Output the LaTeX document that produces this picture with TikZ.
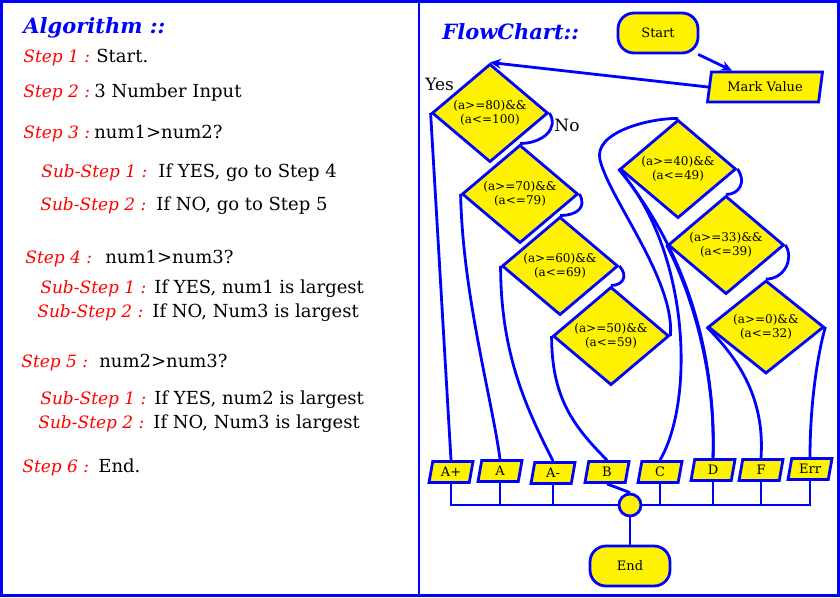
\documentclass[tikz,border=0pt]{standalone}
\usepackage{fontspec}
\setmainfont{DejaVu Serif}
\usepackage{tikz}
\usetikzlibrary{positioning}
\usetikzlibrary{shapes.geometric,arrows.meta}

\begin{document}
\begin{tikzpicture}[
	x=1pt,y=-1pt,
	line width=2.8pt,
	title/.style={anchor=base west,inner sep=0,text=blue,font=\fontsize{21}{25}\selectfont\bfseries\itshape},
	steplabel/.style={anchor=base west,inner sep=0,text=red,font=\fontsize{17}{20}\selectfont\itshape},
	steptext/.style={anchor=base west,inner sep=0,font=\fontsize{18}{21}\selectfont},
	terminal/.style={rectangle,rounded corners=16pt,draw=blue,fill=yellow,minimum width=80pt,minimum height=40pt,font=\fontsize{13}{15}\selectfont},
	iobox/.style={trapezium,trapezium left angle=72,trapezium right angle=108,trapezium stretches body,draw=blue,fill=yellow,inner sep=1pt},
	decision/.style={diamond,draw=blue,fill=yellow,inner sep=0,minimum width=116pt,minimum height=93pt,align=center,font=\fontsize{12}{14}\selectfont},
	grade/.style={iobox,minimum width=44pt,minimum height=21pt,font=\fontsize{13}{15}\selectfont},
	link/.style={draw=blue},
	arr/.style={link,-{Stealth[length=11pt,width=10pt]}}
]
	\useasboundingbox (0,0) rectangle (840,597);
	% frame
	\draw[blue] (1.5,1.5) rectangle (838.5,595.5);
	\draw[blue] (419,0) -- (419,597);

	% Algorithm
	\node[title] (algo) at (22,33) {Algorithm ::};
	\node[steplabel] (s1) at (22,62) {Step 1 :};
	\node[steptext] (t1) at (95,62) {Start.};
	\node[steplabel] (s2) at (22,97) {Step 2 :};
	\node[steptext] (t2) at (93,97) {3 Number Input};
	\node[steplabel] (s3) at (22,138) {Step 3 :};
	\node[steptext] (t3) at (93,138) {num1>num2?};
	\node[steplabel] (s31) at (40,177) {Sub-Step 1 :};
	\node[steptext] (t31) at (157,177) {If YES, go to Step 4};
	\node[steplabel] (s32) at (39,210) {Sub-Step 2 :};
	\node[steptext] (t32) at (155,210) {If NO, go to Step 5};
	\node[steplabel] (s4) at (24,263) {Step 4 :};
	\node[steptext] (t4) at (104,263) {num1>num3?};
	\node[steplabel] (s41) at (39,293) {Sub-Step 1 :};
	\node[steptext] (t41) at (153,293) {If YES, num1 is largest};
	\node[steplabel] (s42) at (36,317) {Sub-Step 2 :};
	\node[steptext] (t42) at (151,317) {If NO, Num3 is largest};
	\node[steplabel] (s5) at (20,367) {Step 5 :};
	\node[steptext] (t5) at (98,367) {num2>num3?};
	\node[steplabel] (s51) at (39,404) {Sub-Step 1 :};
	\node[steptext] (t51) at (153,404) {If YES, num2 is largest};
	\node[steplabel] (s52) at (37,428) {Sub-Step 2 :};
	\node[steptext] (t52) at (152,428) {If NO, Num3 is largest};
	\node[steplabel] (s6) at (21,472) {Step 6 :};
	\node[steptext] (t6) at (97,472) {End.};

	% FlowChart
	\node[title] (flow) at (441,39) {FlowChart::};
	\node[terminal] (start) at (658,33) {Start};
	\node[iobox,minimum width=115pt,minimum height=30pt,font=\fontsize{13}{15}\selectfont] (mark) at (765,87) {Mark Value};

	\node[decision] (d1) at (490,113) {(a>=80)\&\&\\(a<=100)};
	\node[decision] (d2) at (520,194) {(a>=70)\&\&\\(a<=79)};
	\node[decision] (d3) at (560,266) {(a>=60)\&\&\\(a<=69)};
	\node[decision] (d4) at (611,336) {(a>=50)\&\&\\(a<=59)};
	\node[decision] (d5) at (678,169) {(a>=40)\&\&\\(a<=49)};
	\node[decision] (d6) at (726,245) {(a>=33)\&\&\\(a<=39)};
	\node[decision] (d7) at (766,327) {(a>=0)\&\&\\(a<=32)};

	\node[anchor=base west,inner sep=0,font=\fontsize{17}{20}\selectfont] (yes) at (424,90) {Yes};
	\node[anchor=base west,inner sep=0,font=\fontsize{17}{20}\selectfont] (no) at (553,131) {No};

	\node[grade] (ap) at (451,472) {A+};
	\node[grade] (a) at (500,471) {A};
	\node[grade] (am) at (553,473) {A-};
	\node[grade] (b) at (607,472) {B};
	\node[grade] (c) at (660,472) {C};
	\node[grade] (d) at (713,470) {D};
	\node[grade] (f) at (761,470) {F};
	\node[grade] (err) at (810,469) {Err};

	\node[circle,draw=blue,fill=yellow,minimum size=22pt,inner sep=0] (join) at (630,505) {};
	\node[terminal] (end) at (630,566) {End};

	% arrows
	\draw[arr] (start.-28) -- ([xshift=-33pt]mark.north);
	\draw[arr] (mark.west) -- (d1.north);

	% no branches
	\draw[link] (d1.east) .. controls +(10,16) and +(22,0) .. (d2.north);
	\draw[link] (d2.east) .. controls +(8,14) and +(16,0) .. (d3.north);
	\draw[link] (d3.east) .. controls +(9,10) and +(12,0) .. (d4.north);
	\draw[link] (d4.east) .. controls (675,280) and (610,200) .. (600,160)
		.. controls (593,132) and (650,118) .. (d5.north);
	\draw[link] (d5.east) .. controls +(9,12) and +(14,0) .. (d6.north);
	\draw[link] (d6.east) .. controls +(9,14) and +(18,0) .. (d7.north);

	% yes branches
	\draw[link] (d1.west) -- (ap.north);
	\draw[link] (d2.west) .. controls +(2,100) and +(-8,-60) .. (a.north);
	\draw[link] (d3.west) .. controls +(0,90) and +(-25,-50) .. (am.north);
	\draw[link] (d4.west) .. controls +(0,60) and +(-35,-35) .. (b.north);
	\draw[link] (d5.west) .. controls (690,250) and (695,400) .. (c.north);
	\draw[link] (d5.west) .. controls (685,250) and (716,350) .. (d.north);
	\draw[link] (d6.west) .. controls (695,300) and (716,380) .. (d.north);
	\draw[link] (d7.west) .. controls (740,360) and (765,400) .. (f.north);
	\draw[link] (d7.east) .. controls +(-6,20) and +(0,-60) .. (err.north);

	% bus to end
	\draw[link] (ap.south) |- (join.west);
	\draw[link] (a.south) |- (join.west);
	\draw[link] (am.south) |- (join.west);
	\draw[link] (b.south) -- (join.north);
	\draw[link] (c.south) |- (join.east);
	\draw[link] (d.south) |- (join.east);
	\draw[link] (f.south) |- (join.east);
	\draw[link] (err.south) |- (join.east);
	\draw[link] (join.south) -- (end.north);
\end{tikzpicture}
\end{document}
